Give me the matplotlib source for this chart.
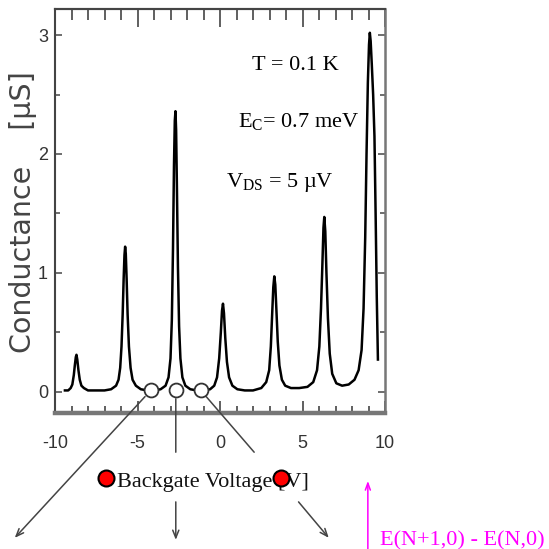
import matplotlib
matplotlib.use("Agg")
import matplotlib.pyplot as plt
from matplotlib.ticker import MultipleLocator
import matplotlib.transforms as mtransforms

plt.rcParams['axes.unicode_minus'] = False
plt.rcParams['mathtext.fontset'] = 'custom'
plt.rcParams['mathtext.rm'] = 'Liberation Serif'
plt.rcParams['mathtext.it'] = 'Liberation Serif:italic'

# ---- data ----
gate_v = [-9.40, -9.20, -9.05, -8.95, -8.86, -8.80, -8.74, -8.70, -8.65, -8.58,
          -8.50, -8.40, -8.25, -8.00, -7.50, -7.00, -6.60, -6.30, -6.15, -6.05,
          -5.97, -5.90, -5.84, -5.79, -5.75, -5.71, -5.66, -5.60, -5.52, -5.42,
          -5.30, -5.10, -4.80, -4.40, -4.00, -3.60, -3.30, -3.12, -3.00, -2.92,
          -2.85, -2.79, -2.74, -2.70, -2.66, -2.61, -2.55, -2.48, -2.40, -2.28,
          -2.10, -1.80, -1.40, -1.00, -0.60, -0.35, -0.18, -0.05, 0.05, 0.12,
          0.18, 0.24, 0.32, 0.42, 0.55, 0.75, 1.05, 1.50, 2.00, 2.50,
          2.80, 2.98, 3.08, 3.16, 3.23, 3.29, 3.35, 3.42, 3.50, 3.60,
          3.75, 3.95, 4.30, 4.80, 5.30, 5.65, 5.88, 6.02, 6.12, 6.20,
          6.27, 6.32, 6.38, 6.45, 6.54, 6.65, 6.80, 7.05, 7.40, 7.80,
          8.15, 8.40, 8.58, 8.70, 8.80, 8.88, 8.96, 9.03, 9.08, 9.13,
          9.20, 9.28, 9.36, 9.43, 9.50, 9.57]
conductance = [0.01, 0.01, 0.03, 0.06, 0.14, 0.22, 0.29, 0.31, 0.27, 0.18,
               0.10, 0.05, 0.03, 0.01, 0.01, 0.01, 0.02, 0.05, 0.10, 0.20,
               0.38, 0.65, 0.95, 1.15, 1.22, 1.16, 0.95, 0.65, 0.38, 0.20,
               0.10, 0.05, 0.02, 0.01, 0.01, 0.02, 0.05, 0.12, 0.28, 0.60,
               1.20, 1.90, 2.28, 2.36, 2.20, 1.70, 1.05, 0.55, 0.28, 0.12,
               0.05, 0.02, 0.01, 0.01, 0.02, 0.05, 0.12, 0.28, 0.50, 0.68,
               0.74, 0.66, 0.45, 0.25, 0.12, 0.05, 0.02, 0.01, 0.01, 0.03,
               0.08, 0.18, 0.38, 0.65, 0.88, 0.97, 0.90, 0.68, 0.42, 0.22,
               0.10, 0.05, 0.03, 0.03, 0.04, 0.08, 0.18, 0.38, 0.70, 1.05,
               1.38, 1.47, 1.35, 1.00, 0.62, 0.32, 0.15, 0.07, 0.05, 0.06,
               0.10, 0.18, 0.35, 0.70, 1.30, 2.00, 2.60, 2.92, 3.02, 2.95,
               2.75, 2.50, 2.15, 1.50, 0.80, 0.27]

circle_v = [-4.2, -2.68, -1.16]
circle_g = [0.01, 0.01, 0.01]
red_dot_v = [-6.9, 3.7]

x_major = [-10, -5, 0, 5, 10]
x_labels = ["-10", "-5", "0", "5", "10"]
y_major = [0, 1, 2, 3]
y_labels = ["0", "1", "2", "3"]

serif = 'Liberation Serif'
sans_narrow = ['Liberation Sans Narrow', 'Liberation Sans']

fig = plt.figure(figsize=(5.49, 5.49), dpi=100)
ax = fig.add_axes([0.1002, 0.2477, 0.6011, 0.7359])

ax.plot(gate_v, conductance, color='black', lw=1.8, zorder=3)
ax.plot(circle_v, circle_g, 'o', ms=10, mfc='white', mec='#333333', mew=1.3,
        zorder=5, clip_on=False)

ax.set_xlim(-10, 10)
ax.set_ylim(-0.18, 3.22)

ax.set_xticks(x_major)
ax.set_xticklabels(x_labels, family=sans_narrow, fontsize=13, color='#333333')
ax.xaxis.set_minor_locator(MultipleLocator(1))
ax.set_yticks(y_major)
ax.set_yticklabels(y_labels, family=sans_narrow, fontsize=13, color='#333333')
ax.yaxis.set_minor_locator(MultipleLocator(0.5))

ax.tick_params(axis='x', which='major', direction='in', length=9, width=1.2,
               color='#444444', pad=16)
ax.tick_params(axis='x', which='minor', direction='in', length=5, width=1.2,
               color='#444444')
ax.tick_params(axis='y', which='major', direction='in', length=5, width=1.2,
               color='#555555', pad=5, right=True)
ax.tick_params(axis='y', which='minor', direction='in', length=3.5, width=1.2,
               color='#555555', right=True)

secax = ax.secondary_xaxis('top')
secax.set_xticks(x_major)
secax.xaxis.set_minor_locator(MultipleLocator(1))
secax.tick_params(axis='x', which='major', direction='in', length=13, width=1.2,
                  color='#444444', labeltop=False)
secax.tick_params(axis='x', which='minor', direction='in', length=8, width=1.2,
                  color='#444444')
secax.spines['top'].set_color('#444444')
secax.spines['top'].set_linewidth(1.5)

ax.spines['left'].set_color('#444444')
ax.spines['left'].set_linewidth(1.5)
ax.spines['top'].set_color('#444444')
ax.spines['top'].set_linewidth(1.5)
ax.spines['right'].set_color('#777777')
ax.spines['right'].set_linewidth(1.8)
ax.spines['bottom'].set_color('#777777')
ax.spines['bottom'].set_linewidth(3.2)

# y label
ax.text(-0.097, 0.497, "Conductance    [\u00b5S]", transform=ax.transAxes,
        rotation=90, ha='center', va='center', family='DejaVu Sans',
        fontsize=20.5, color='#444444')

# annotations inside the plot
ax.text(0.727, 0.849, "T = 0.1 K", transform=ax.transAxes, ha='center',
        va='baseline', family=serif, fontsize=16)
ax.text(0.739, 0.708, r"E$_{\mathrm{C}}$= 0.7 meV", transform=ax.transAxes,
        ha='center', va='baseline', family=serif, fontsize=16)
ax.text(0.682, 0.559, r"V$_{\mathrm{DS}}$" + " = 5 \u00b5V", transform=ax.transAxes,
        ha='center', va='baseline', family=serif, fontsize=16)

# x label
ax.text(0.480, -0.183, "Backgate Voltage [V]", transform=ax.transAxes,
        ha='center', va='baseline', family=serif, fontsize=16, color='#111111')

blend = mtransforms.blended_transform_factory(ax.transData, ax.transAxes)

# red dots
ax.plot(red_dot_v, [-0.161, -0.161], 'o', ms=11.5, mfc='#ff0000', mec='black',
        mew=1.5, transform=blend, clip_on=False, zorder=6)

arrow_col = '#444444'
head = dict(arrowstyle='->,head_length=0.55,head_width=0.22', color=arrow_col,
            lw=1.1, shrinkA=0, shrinkB=0)
plain = dict(arrowstyle='-', color=arrow_col, lw=1.1, shrinkA=0, shrinkB=0)

# left arrow: circle 1 -> lower left
a = dict(head); a['shrinkA'] = 6
ax.annotate("", xy=(-12.44, -0.309), xycoords=blend,
            xytext=(circle_v[0], circle_g[0]), textcoords='data',
            arrowprops=a, annotation_clip=False)
# vertical arrow from circle 2
p = dict(plain); p['shrinkA'] = 6
ax.annotate("", xy=(circle_v[1], -0.097), xycoords=blend,
            xytext=(circle_v[1], circle_g[1]), textcoords='data',
            arrowprops=p, annotation_clip=False)
ax.annotate("", xy=(circle_v[1], -0.314), xycoords=blend,
            xytext=(circle_v[1], -0.220), textcoords=blend,
            arrowprops=head, annotation_clip=False)
# right arrow from circle 3
ax.annotate("", xy=(2.07, -0.097), xycoords=blend,
            xytext=(circle_v[2], circle_g[2]), textcoords='data',
            arrowprops=p, annotation_clip=False)
ax.annotate("", xy=(6.59, -0.309), xycoords=blend,
            xytext=(4.76, -0.220), textcoords=blend,
            arrowprops=head, annotation_clip=False)

# magenta arrow + text
ax.annotate("", xy=(0.948, -0.168), xycoords='axes fraction',
            xytext=(0.948, -0.345), textcoords='axes fraction',
            arrowprops=dict(arrowstyle='->,head_length=0.5,head_width=0.18',
                            color='#ff00ff', lw=1.1, shrinkA=0, shrinkB=0),
            annotation_clip=False)
ax.text(1.233, -0.327, "E(N+1,0) - E(N,0)", transform=ax.transAxes,
        ha='center', va='baseline', family=serif, fontsize=16, color='#ff00ff')

fig.savefig("out.png", dpi=100)
